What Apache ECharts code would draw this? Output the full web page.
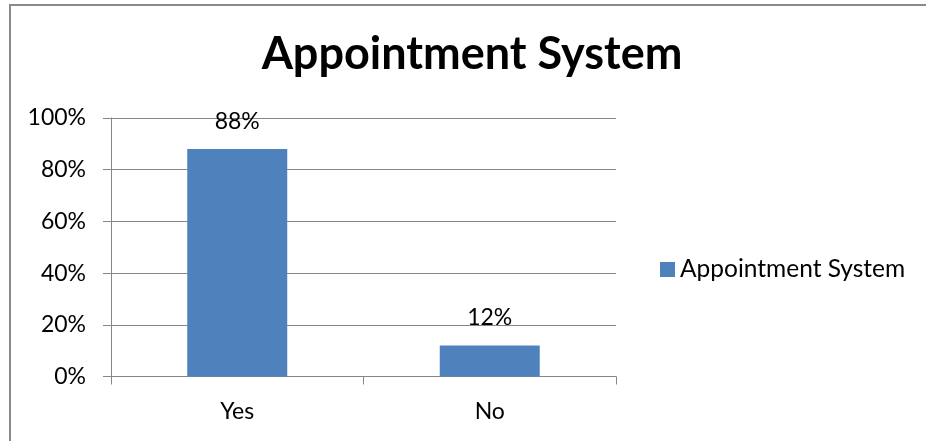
<!DOCTYPE html>
<html>
<head>
<meta charset="utf-8">
<script src="https://cdn.jsdelivr.net/npm/echarts@6/dist/echarts.min.js"></script>
<style>
  html, body { margin: 0; padding: 0; background: #fff; }
  #chart { width: 926px; height: 441px; }
</style>
</head>
<body>
<div id="chart"></div>
<script>
// Survey answers and their share of responses
const categories = ['Yes', 'No'];
const shares = [0.88, 0.12];
const seriesName = 'Appointment System';
const yTicks = [0, 0.2, 0.4, 0.6, 0.8, 1.0];

const FONT = 'Lato, "Open Sans", sans-serif';
const GRID_COLOR = '#868686';
const TEXT_SIZE = 23;

const chart = echarts.init(document.getElementById('chart'), null, { renderer: 'canvas' });

const pct = v => Math.round(v * 100) + '%';

chart.setOption({
  animation: false,
  backgroundColor: '#ffffff',
  title: {
    text: seriesName,
    left: 467,
    top: 27,
    textAlign: 'center',
    textStyle: { fontFamily: FONT, fontWeight: 'bold', fontSize: 45, color: '#000' }
  },
  legend: {
    data: [seriesName],
    orient: 'vertical',
    left: 655,
    top: 252,
    itemWidth: 15,
    itemHeight: 15,
    itemGap: 0,
    icon: 'rect',
    textStyle: { fontFamily: FONT, fontSize: 24.5, color: '#000' }
  },
  grid: { left: 111, right: 310, top: 118, bottom: 64.5 },
  xAxis: {
    type: 'category',
    data: categories,
    boundaryGap: true,
    axisLine: { lineStyle: { color: GRID_COLOR, width: 1 } },
    axisTick: { show: true, length: 8, alignWithLabel: false, lineStyle: { color: GRID_COLOR } },
    axisLabel: { fontFamily: FONT, fontSize: TEXT_SIZE, color: '#000', margin: 24 }
  },
  yAxis: {
    type: 'value',
    min: yTicks[0],
    max: yTicks[yTicks.length - 1],
    interval: yTicks[1] - yTicks[0],
    axisLine: { show: true, lineStyle: { color: GRID_COLOR, width: 1 } },
    axisTick: { show: true, length: 8, lineStyle: { color: GRID_COLOR } },
    splitLine: { show: true, lineStyle: { color: GRID_COLOR, width: 1 } },
    axisLabel: { fontFamily: FONT, fontSize: TEXT_SIZE, color: '#000', margin: 25, formatter: pct }
  },
  series: [{
    name: seriesName,
    type: 'bar',
    data: shares,
    barWidth: '39.6%',
    itemStyle: { color: '#4f81bd' },
    label: {
      show: true,
      position: 'top',
      distance: 16,
      fontFamily: FONT,
      fontSize: TEXT_SIZE,
      color: '#000',
      formatter: p => pct(p.value)
    }
  }],
  graphic: [{
    type: 'rect',
    shape: { x: 10, y: 5, width: 1000, height: 1000 },
    style: { fill: 'none', stroke: '#8a8a8a', lineWidth: 2 },
    z: 100
  }]
});
</script>
</body>
</html>
